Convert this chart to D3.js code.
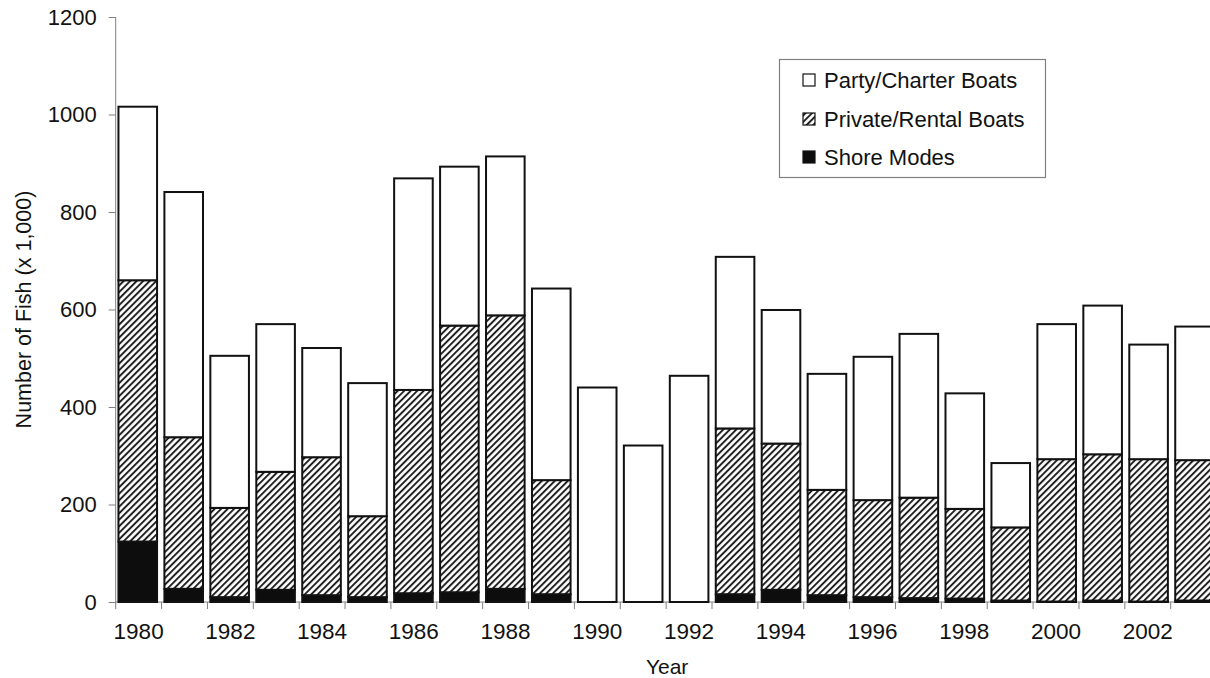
<!DOCTYPE html>
<html><head><meta charset="utf-8">
<script src="https://cdn.jsdelivr.net/npm/d3@7"></script>
<style>
html,body{margin:0;padding:0;background:#fff;overflow:hidden;}
text{font-family:"Liberation Sans",Arial,sans-serif;fill:#111;}
</style></head>
<body><svg id="c" width="1210" height="678"></svg>
<script>
const years = [1980,1981,1982,1983,1984,1985,1986,1987,1988,1989,1990,1991,1992,1993,1994,1995,1996,1997,1998,1999,2000,2001,2002,2003];
const shoreModes   = [124,27,10,25,14,10,18,20,27,16,0,0,0,16,25,14,10,8,7,3,1,3,1,3];
const privateRental= [536,311,183,242,283,166,417,547,561,234,0,0,0,340,300,216,199,206,184,150,292,300,292,288];
const partyCharter = [356,503,312,303,224,273,434,326,326,393,440,321,464,352,274,238,294,336,237,132,277,305,235,274];
const yTicks = [0,200,400,600,800,1000,1200];
const xLabelYears = [1980,1982,1984,1986,1988,1990,1992,1994,1996,1998,2000,2002];
const seriesKeys = ["shore","private","party"];
const legendItems = [["party","Party/Charter Boats"],["private","Private/Rental Boats"],["shore","Shore Modes"]];

const rows = years.map((y,i)=>({year:y, shore:shoreModes[i], private:privateRental[i], party:partyCharter[i]}));

const svg = d3.select("#c");
const defs = svg.append("defs");
const pat = defs.append("pattern").attr("id","hatch").attr("patternUnits","userSpaceOnUse")
  .attr("width",4.6).attr("height",4.6).attr("patternTransform","rotate(45)");
pat.append("rect").attr("width",4.6).attr("height",4.6).attr("fill","#fff");
pat.append("line").attr("x1",1).attr("y1",0).attr("x2",1).attr("y2",4.6).attr("stroke","#1a1a1a").attr("stroke-width",1.9);

const fills = {shore:"#0d0d0d", private:"url(#hatch)", party:"#fff"};

const L = 115.7, R = 115.7 + 24*45.87, T = 17, B = 602;
const xOuter = d3.scaleBand().domain(years).range([L,R]).padding(0);
const x = d3.scaleBand().domain(years).range([L,R]).paddingInner(0.16).paddingOuter(0.06);
const y = d3.scaleLinear().domain([0,1200]).range([B,T]);

const stack = d3.stack().keys(seriesKeys)(rows);

// axes
const yAxis = svg.append("g").attr("transform",`translate(${L},0)`)
  .call(d3.axisLeft(y).tickValues(yTicks).tickSize(7).tickPadding(12).tickFormat(d3.format("d")));
yAxis.selectAll("path,line").attr("stroke","#808080");
yAxis.select(".domain").attr("d",`M0,${T}V${B}`);
yAxis.selectAll("text").style("font-size","22px").attr("font-family",null).style("fill","#111");

const xg = svg.append("g");
xg.append("line").attr("x1",L).attr("x2",R).attr("y1",B).attr("y2",B).attr("stroke","#808080");
xg.selectAll("line.t").data(years.concat([null])).enter().append("line").attr("class","t")
  .attr("x1",d=> d===null ? R : xOuter(d)).attr("x2",d=> d===null ? R : xOuter(d))
  .attr("y1",B).attr("y2",B+7).attr("stroke","#808080");
xg.selectAll("text").data(xLabelYears).enter().append("text")
  .attr("x",d=>xOuter(d)+xOuter.bandwidth()/2).attr("y",639)
  .attr("text-anchor","middle").style("font-size","22.5px").text(d=>d);

// bars
svg.append("g").selectAll("g").data(stack).enter().append("g")
  .attr("fill",d=>fills[d.key])
  .selectAll("rect").data(d=>d.filter(p=>p[1]-p[0]>0)).enter().append("rect")
  .attr("x",d=>x(d.data.year)).attr("width",x.bandwidth())
  .attr("y",d=>y(d[1])).attr("height",d=>y(d[0])-y(d[1]))
  .attr("stroke","#111").attr("stroke-width",2);

// axis titles
svg.append("text").attr("x",(L+R)/2 + 1).attr("y",674).attr("text-anchor","middle")
  .style("font-size","21px").text("Year");
svg.append("text").attr("transform",`translate(31,${(T+B)/2}) rotate(-90)`).attr("text-anchor","middle")
  .style("font-size","21.5px").text("Number of Fish (x 1,000)");

// legend
const lg = svg.append("g");
lg.append("rect").attr("x",779.5).attr("y",59.5).attr("width",266).attr("height",118)
  .attr("fill","#fff").attr("stroke","#808080").attr("stroke-width",1.2);
const rowY = [80,119,157];
legendItems.forEach(([k,label],i)=>{
  lg.append("rect").attr("x",803).attr("y",rowY[i]-6).attr("width",12).attr("height",12)
    .attr("fill",fills[k]).attr("stroke","#111").attr("stroke-width",1.2);
  lg.append("text").attr("x",824).attr("y",rowY[i]+7.5).style("font-size","22px").text(label);
});
</script></body></html>
